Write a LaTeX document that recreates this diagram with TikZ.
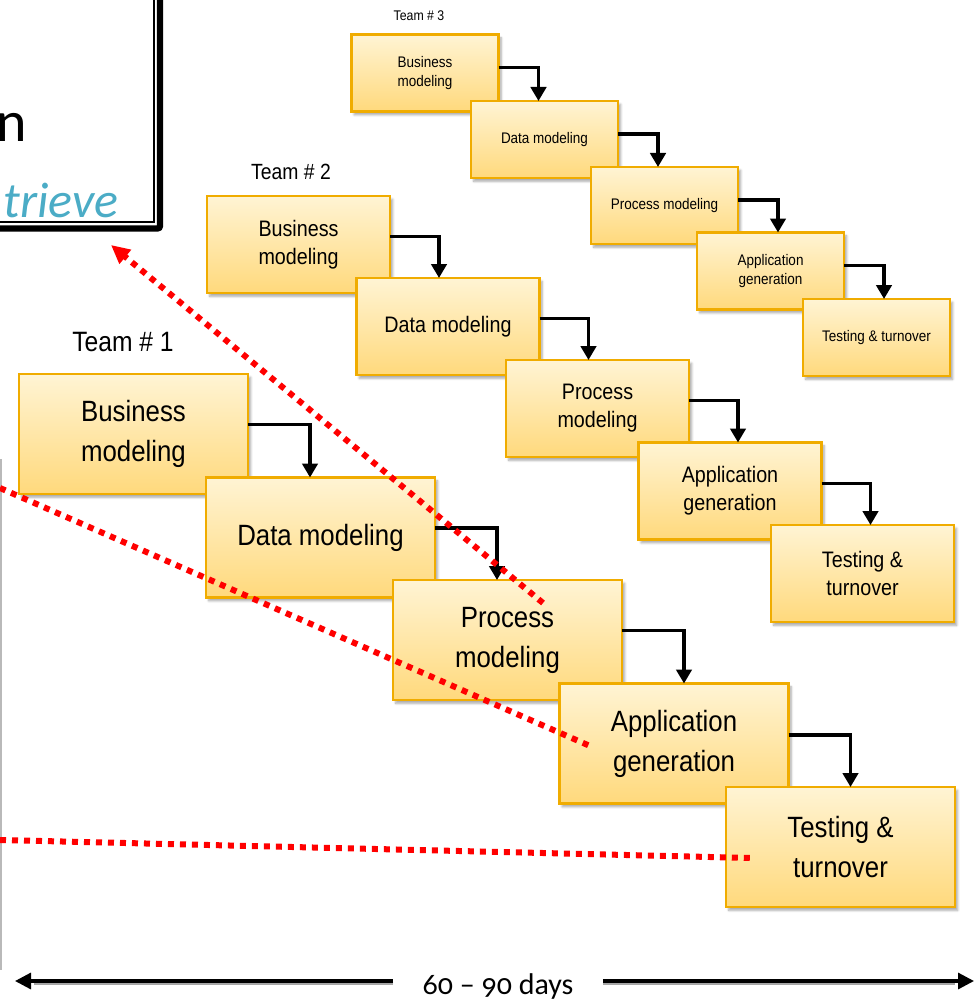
\documentclass[tikz,border=0pt]{standalone}
\usepackage{fontspec}
\usetikzlibrary{arrows.meta,shadows,shadows.blur,calc}
\newfontfamily\boxfont{Liberation Sans}[FakeStretch=0.88]
\newfontfamily\calfont{Carlito}[Numbers=OldStyle]
\definecolor{boxtop}{HTML}{FFF4D4}
\definecolor{boxbot}{HTML}{FFD97C}
\definecolor{boxedge}{HTML}{F0AC00}
\definecolor{accentblue}{HTML}{4BACC6}
\definecolor{dotred}{HTML}{FF0000}

\begin{document}
\begin{tikzpicture}[x=0.75pt,y=-0.75pt,
  phase/.style={draw=boxedge, line width=2.1pt, top color=boxtop, bottom color=boxbot,
    align=center, inner sep=0pt, outer sep=0pt,
    blur shadow={shadow xshift=2pt, shadow yshift=-2.5pt, shadow blur steps=6, shadow opacity=35}},
  teamone/.style={phase, minimum width=171.75pt, minimum height=90pt,
    font=\boxfont\fontsize{22}{30}\selectfont},
  teamtwo/.style={phase, minimum width=137.25pt, minimum height=72.75pt,
    font=\boxfont\fontsize{16.8}{21}\selectfont},
  teamthree/.style={phase, minimum width=110.25pt, minimum height=57.75pt,
    font=\boxfont\fontsize{11.5}{14.3}\selectfont},
  flow/.style={draw=black, line width=2.6pt, -{Triangle[length=10.5pt,width=11.5pt]}},
  redline/.style={draw=dotred, line width=4.5pt, dash pattern=on 4.5pt off 4.5pt},
  spanline/.style={draw=black, line width=2.4pt, -{Triangle[length=12pt,width=12pt]}},
  spanshade/.style={draw=black!35, line width=1.5pt},
  teamlabel/.style={inner sep=0pt}
]
\useasboundingbox (0,0) rectangle (975,1002);

% framed heading box at the top left
\draw[line width=4.8pt, rounded corners=2pt] (160,-20) -- (160,228.5) -- (-20,228.5);
\draw[line width=1.1pt] (154,-20) -- (154,222) -- (-20,222);
\node[anchor=base east, inner sep=0pt, font=\calfont\fontsize{43.5}{50}\selectfont] (headA) at (27,142) {n};
\node[anchor=base east, inner sep=0pt, text=accentblue,
      font=\calfont\itshape\fontsize{37.5}{44}\selectfont] (headB) at (119,217) {trieve};

% thin frame edge on the left
\draw[gray!55, line width=1.1pt] (1,459) -- (1,970);

% Team 3
\node[teamlabel, font=\boxfont\fontsize{10.5}{12}\selectfont] (L3) at (419,16) {Team \# 3};
\node[teamthree] (B3) at (425,73) {Business\\modeling};
\node[teamthree] (D3) at (544.5,139.5) {Data modeling};
\node[teamthree] (P3) at (664.5,205.5) {Process modeling};
\node[teamthree] (A3) at (770.5,271) {Application\\generation};
\node[teamthree] (T3) at (876.5,337.5) {Testing \& turnover};
\draw[flow] ($(B3.north east)!0.43!(B3.south east)$) -| ($(B3.east |- D3.north)+(30pt,0)$);
\draw[flow] ($(D3.north east)!0.43!(D3.south east)$) -| ($(D3.east |- P3.north)+(30pt,0)$);
\draw[flow] ($(P3.north east)!0.43!(P3.south east)$) -| ($(P3.east |- A3.north)+(30pt,0)$);
\draw[flow] ($(A3.north east)!0.43!(A3.south east)$) -| ($(A3.east |- T3.north)+(30pt,0)$);

% Team 2
\node[teamlabel, font=\boxfont\fontsize{16.5}{19}\selectfont] (L2) at (291,172) {Team \# 2};
\node[teamtwo] (B2) at (298.5,244.5) {Business\\modeling};
\node[teamtwo] (D2) at (448,326.5) {Data modeling};
\node[teamtwo] (P2) at (597.5,408.5) {Process\\modeling};
\node[teamtwo] (A2) at (730,491) {Application\\generation};
\node[teamtwo] (T2) at (862.5,573.5) {Testing \&\\turnover};
\draw[flow] ($(B2.north east)!0.42!(B2.south east)$) -| ($(B2.east |- D2.north)+(36.75pt,0)$);
\draw[flow] ($(D2.north east)!0.42!(D2.south east)$) -| ($(D2.east |- P2.north)+(36.75pt,0)$);
\draw[flow] ($(P2.north east)!0.42!(P2.south east)$) -| ($(P2.east |- A2.north)+(36.75pt,0)$);
\draw[flow] ($(A2.north east)!0.42!(A2.south east)$) -| ($(A2.east |- T2.north)+(36.75pt,0)$);

% Team 1
\node[teamlabel, font=\boxfont\fontsize{21}{25}\selectfont] (L1) at (123,342) {Team \# 1};
\node[teamone] (B1) at (133.5,434) {Business\\modeling};
\node[teamone] (D1) at (320.5,537.5) {Data modeling};
\node[teamone] (P1) at (507.5,640) {Process\\modeling};
\node[teamone] (A1) at (674,743.5) {Application\\generation};
\node[teamone] (T1) at (840.5,847) {Testing \&\\turnover};
\draw[flow] ($(B1.north east)!0.42!(B1.south east)$) -| ($(B1.east |- D1.north)+(46.5pt,0)$);
\draw[flow] ($(D1.north east)!0.42!(D1.south east)$) -| ($(D1.east |- P1.north)+(46.5pt,0)$);
\draw[flow] ($(P1.north east)!0.42!(P1.south east)$) -| ($(P1.east |- A1.north)+(46.5pt,0)$);
\draw[flow] ($(A1.north east)!0.43!(A1.south east)$) -| ($(A1.east |- T1.north)+(46.5pt,0)$);

% red dotted pointers
\coordinate (r1s) at (543,603);
\coordinate (r1e) at (111,245);
\coordinate (r2s) at (0,488);
\coordinate (r2e) at (590,746);
\coordinate (r3s) at (0,840);
\coordinate (r3e) at (752,858);
\draw[redline, -{Triangle[length=14pt,width=13pt]}] (r1s) -- (r1e);
\draw[redline] (r2s) -- (r2e);
\draw[redline] (r3s) -- (r3e);

% time span
\node[anchor=base, inner xsep=22pt, inner ysep=2pt,
      font=\calfont\fontsize{22.5}{27}\selectfont] (span) at (498,994) {60 – 90 days};
\coordinate (tipL) at (15,981);
\coordinate (tipR) at (974,981);
\draw[spanshade] ([yshift=-2.5pt]span.west |- tipL) -- ([xshift=14pt,yshift=-2.5pt]tipL);
\draw[spanshade] ([yshift=-2.5pt]span.east |- tipR) -- ([xshift=-14pt,yshift=-2.5pt]tipR);
\draw[spanline] (span.west |- tipL) -- (tipL);
\draw[spanline] (span.east |- tipR) -- (tipR);
\end{tikzpicture}
\end{document}
